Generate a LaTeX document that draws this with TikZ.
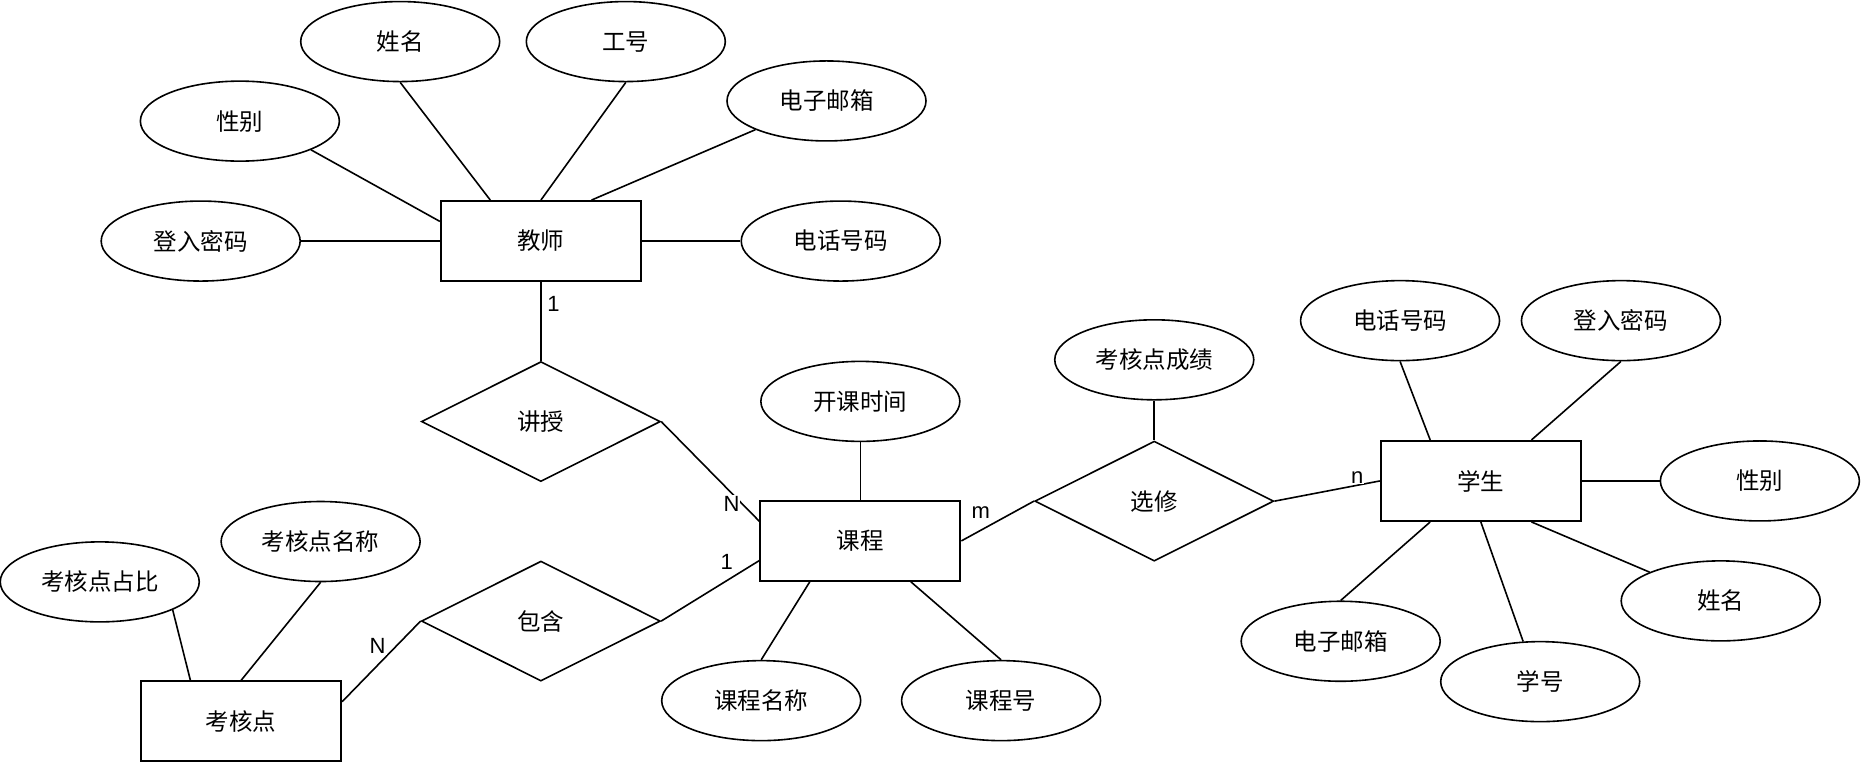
\documentclass[tikz,border=0pt]{standalone}
\usepackage{fontspec}
\setmainfont{Noto Sans CJK SC}
\newfontfamily\latfont{Liberation Sans}
\usepackage{tikz}
\usetikzlibrary{shapes.geometric}

\begin{document}
\begin{tikzpicture}[x=1.1875pt, y=-1.1875pt, line width=1.6pt, font=\fontsize{23.5pt}{28pt}\selectfont, ent/.style={draw, line width=2pt, minimum width=200pt, minimum height=80pt, inner sep=0pt}, attr/.style={draw, ellipse, minimum width=199pt, minimum height=80pt, inner sep=0pt}, rel/.style={draw, diamond, minimum width=239pt, minimum height=120pt, inner sep=0pt}, card/.style={fill=white, inner sep=1pt, font=\latfont\fontsize{22pt}{26pt}\selectfont}]
\useasboundingbox (0,0) rectangle (1568,642);
% entities
\node[ent] (teach) at (455.5,203) {教师};
\node[ent] (course) at (724.5,455.5) {课程};
\node[ent] (stu) at (1247,405) {学生};
\node[ent] (point) at (203,607.5) {考核点};
% relations
\node[rel] (lect) at (455.5,355) {讲授};
\node[rel] (elect) at (972,422) {选修};
\node[rel] (incl) at (455.5,523) {包含};
% teacher attributes
\node[attr] (tname) at (337,35) {姓名};
\node[attr] (tid) at (527,35) {工号};
\node[attr] (tsex) at (202,102) {性别};
\node[attr] (tmail) at (696,85) {电子邮箱};
\node[attr] (tpwd) at (169,203) {登入密码};
\node[attr] (ttel) at (708,203) {电话号码};
% course attributes
\node[attr] (ctime) at (724.5,338) {开课时间};
\node[attr] (cname) at (641,590) {课程名称};
\node[attr] (cid) at (843,590) {课程号};
\node[attr] (grade) at (972,303) {考核点成绩};
% student attributes
\node[attr] (stel) at (1179,270) {电话号码};
\node[attr] (spwd) at (1365,270) {登入密码};
\node[attr] (ssex) at (1482,405) {性别};
\node[attr] (sname) at (1449,506) {姓名};
\node[attr] (sid) at (1297,574) {学号};
\node[attr] (smail) at (1129,540) {电子邮箱};
% point attributes
\node[attr] (pname) at (270,456) {考核点名称};
\node[attr] (pratio) at (84,490) {考核点占比};

\draw (tname.south) -- (teach.141);
\draw (tid.south) -- (teach.north);
\draw (tmail.202) -- (teach.39);
\draw (tsex.338) -- (teach.169);
\draw (tpwd) -- (teach);
\draw (teach) -- (ttel);
\draw (teach.south) -- (lect.north);
\draw (lect.east) -- (course.169);
\draw (ctime.south) -- (course.north);
\draw (course.219) -- (cname.north);
\draw (course.321) -- (cid.north);
\draw (course.east) -- (elect.west);
\draw (grade.south) -- (elect.north);
\draw (elect.east) -- (stu.west);
\draw (stel.south) -- (stu.141);
\draw (spwd.south) -- (stu.39);
\draw (stu) -- (ssex);
\draw (stu.321) -- (sname.158);
\draw (stu.south) -- (sid.113);
\draw (stu.219) -- (smail.north);
\draw (course.191) -- (incl.east);
\draw (incl.west) -- (point.11);
\draw (pname.south) -- (point.north);
\draw (pratio.339) -- (point.141);

% cardinalities
\node[card] (c1) at (466,256) {1};
\node[card] (c2) at (616,424) {N};
\node[card] (c3) at (826,432) {m};
\node[card] (c4) at (1143,402) {n};
\node[card] (c5) at (612,473) {1};
\node[card] (c6) at (318,544) {N};
\end{tikzpicture}
\end{document}
